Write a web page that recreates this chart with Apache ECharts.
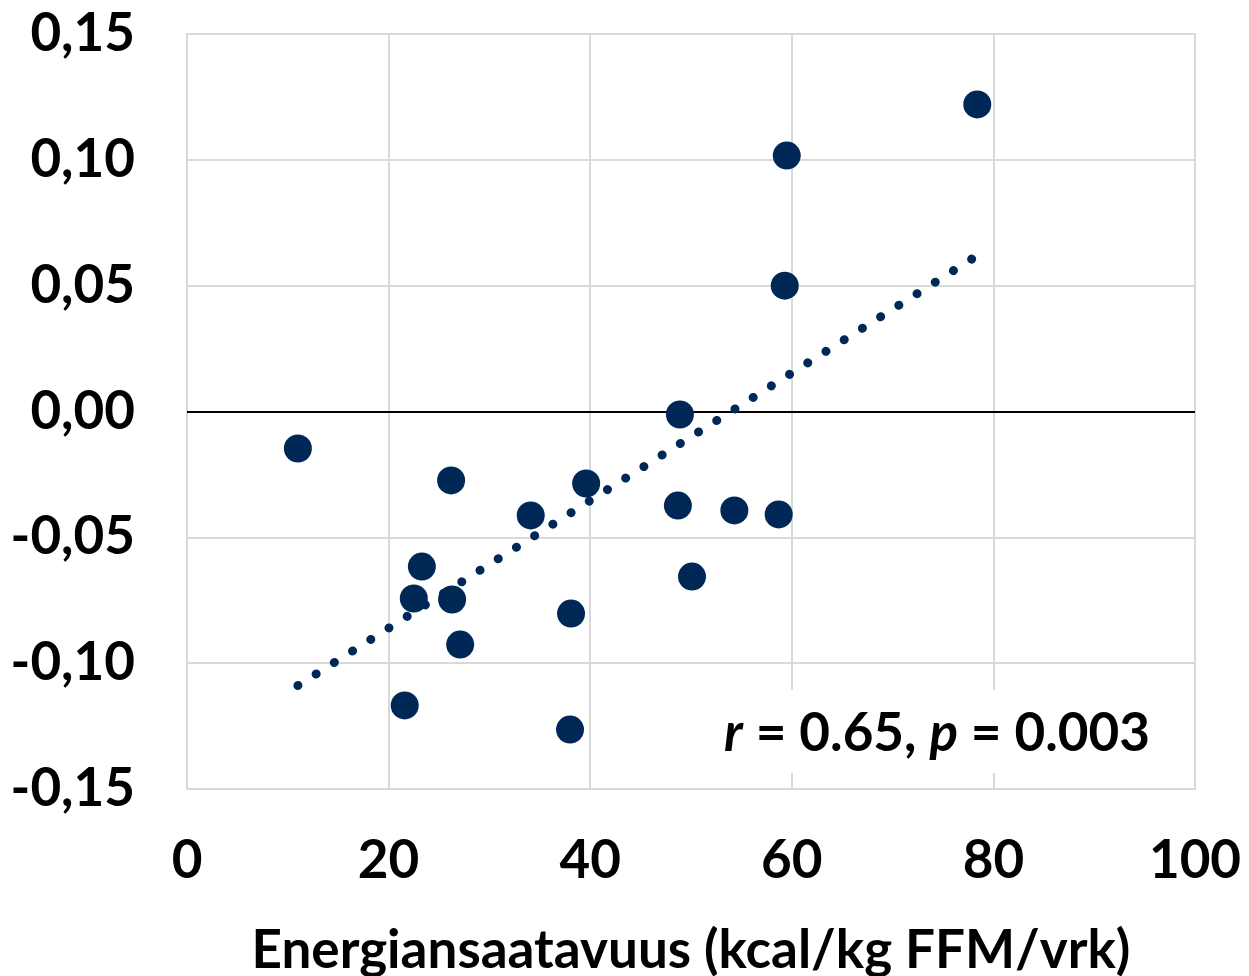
<!DOCTYPE html>
<html>
<head>
<meta charset="utf-8">
<script src="https://cdn.jsdelivr.net/npm/echarts@6/dist/echarts.min.js"></script>
<style>
html,body{margin:0;padding:0;background:#fff;}
#chart{width:1249px;height:976px;}
</style>
</head>
<body>
<div id="chart"></div>
<script>
// Data
var xValues = [11.0, 26.2, 23.3, 22.5, 26.3, 27.1, 21.6, 34.1, 39.6, 38.1, 38.0, 48.9, 48.7, 50.1, 54.3, 58.7, 59.3, 59.5, 78.4];
var yValues = [-0.0147, -0.0274, -0.0616, -0.0743, -0.0747, -0.0926, -0.1168, -0.0413, -0.0286, -0.0803, -0.1264, -0.0012, -0.0374, -0.0656, -0.0393, -0.0409, 0.0500, 0.1017, 0.1220];
var trendX = [11.0, 78.1];
var trendY = [-0.1089, 0.0612];
var xTicks = [0, 20, 40, 60, 80, 100];
var yTicks = [-0.15, -0.10, -0.05, 0.00, 0.05, 0.10, 0.15];
var xTitle = 'Energiansaatavuus (kcal/kg FFM/vrk)';
var annotation = ['r', ' = 0.65, ', 'p', ' = 0.003'];

var points = xValues.map(function (x, i) { return [x, yValues[i]]; });
var trend = trendX.map(function (x, i) { return [x, trendY[i]]; });

var FONT = 'Lato, "Noto Sans", sans-serif';
var FS = 53;
var NAVY = '#002856';
var GRID = '#d9d9d9';

var chart = echarts.init(document.getElementById('chart'), null, {renderer: 'canvas'});
chart.setOption({
  animation: false,
  backgroundColor: '#ffffff',
  grid: {left: 187, right: 54, top: 34, bottom: 187, show: true, borderColor: GRID, borderWidth: 2, containLabel: false, outerBoundsMode: 'none'},
  xAxis: {
    type: 'value', min: xTicks[0], max: xTicks[xTicks.length - 1], interval: 20,
    name: xTitle, nameLocation: 'middle', nameGap: 135,
    nameTextStyle: {fontFamily: FONT, fontWeight: 'bold', fontSize: FS, color: '#000'},
    axisLine: {show: true, lineStyle: {color: GRID, width: 2}},
    axisTick: {show: false},
    axisLabel: {fontFamily: FONT, fontWeight: 'bold', fontSize: FS, color: '#000', margin: 45},
    splitLine: {show: true, lineStyle: {color: GRID, width: 2}}
  },
  yAxis: {
    type: 'value', min: yTicks[0], max: yTicks[yTicks.length - 1], interval: 0.05,
    axisLine: {show: true, lineStyle: {color: GRID, width: 2}},
    axisTick: {show: false},
    axisLabel: {
      fontFamily: FONT, fontWeight: 'bold', fontSize: FS, color: '#000', margin: 52,
      formatter: function (v) {
        return (Math.abs(v) < 1e-9 ? 0 : v).toFixed(2).replace('.', ',');
      }
    },
    splitLine: {show: true, lineStyle: {color: GRID, width: 2}}
  },
  series: [
    {
      type: 'scatter', data: points, symbol: 'circle', symbolSize: 28,
      itemStyle: {color: NAVY, opacity: 1}, z: 3,
      markLine: {
        silent: true, symbol: 'none', label: {show: false},
        lineStyle: {color: '#000', width: 2, type: 'solid'},
        data: [{yAxis: 0}], z: 2
      }
    },
    {
      type: 'line', data: trend, symbol: 'none', z: 4,
      lineStyle: {color: NAVY, width: 9, type: [0.1, 21.45], cap: 'round'}
    }
  ],
  graphic: [{
    type: 'text', right: 89, top: 690, z: 10,
    style: {
      text: '{i|' + annotation[0] + '}{n|' + annotation[1] + '}{i|' + annotation[2] + '}{n|' + annotation[3] + '}',
      backgroundColor: '#fff',
      padding: [14, 10, 9, 22],
      rich: {
        i: {fontFamily: FONT, fontWeight: 'bold', fontStyle: 'italic', fontSize: FS, fill: '#000', lineHeight: 60},
        n: {fontFamily: FONT, fontWeight: 'bold', fontSize: FS, fill: '#000', lineHeight: 60}
      }
    }
  }]
});
</script>
</body>
</html>
